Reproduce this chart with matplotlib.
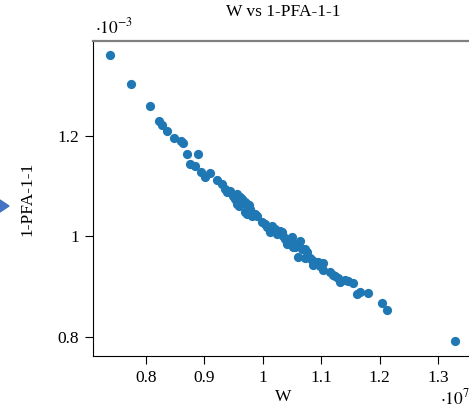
import matplotlib
matplotlib.use("Agg")
import matplotlib.pyplot as plt
from matplotlib.patches import Polygon
from matplotlib.ticker import FuncFormatter

plt.rcParams['font.family'] = ['Liberation Serif', 'DejaVu Serif']
plt.rcParams['mathtext.fontset'] = 'stix'

# W values (x 1e7) and 1-PFA-1-1 values (x 1e-3)
w = [0.738, 0.774, 0.807, 0.822, 0.827, 0.836, 0.848, 0.860, 0.863, 0.870,
     0.889, 0.875, 0.884, 0.894, 0.910, 0.901, 0.922, 0.930, 0.935, 0.939,
     0.944, 0.949, 0.956, 0.961, 0.952, 0.966, 0.970, 0.956, 0.973, 0.959,
     0.975, 0.978, 0.970, 0.973, 0.982, 0.987, 0.990, 0.999, 1.007, 1.016,
     1.021, 1.012, 1.029, 1.033, 1.035, 1.038, 1.041, 1.050, 1.041, 1.050,
     1.064, 1.055, 1.052, 1.067, 1.072, 1.076, 1.060, 1.072, 1.076, 1.081,
     1.084, 1.089, 1.086, 1.095, 1.103, 1.103, 1.115, 1.120, 1.129, 1.132,
     1.141, 1.146, 1.154, 1.161, 1.166, 1.180, 1.204, 1.213, 1.329,
     0.964, 0.976, 1.004, 1.024, 1.057, 1.098, 1.124]
pfa = [1.362, 1.304, 1.259, 1.229, 1.221, 1.209, 1.195, 1.189, 1.185, 1.165,
       1.165, 1.145, 1.141, 1.129, 1.127, 1.119, 1.113, 1.105, 1.094, 1.088,
       1.090, 1.080, 1.084, 1.078, 1.074, 1.070, 1.068, 1.064, 1.064, 1.060,
       1.058, 1.054, 1.048, 1.044, 1.040, 1.044, 1.040, 1.028, 1.018, 1.020,
       1.014, 1.008, 1.010, 1.008, 1.000, 0.994, 0.994, 0.998, 0.984, 0.988,
       0.990, 0.978, 0.978, 0.974, 0.974, 0.970, 0.960, 0.958, 0.960, 0.958,
       0.954, 0.950, 0.944, 0.950, 0.948, 0.934, 0.930, 0.924, 0.918, 0.910,
       0.914, 0.912, 0.908, 0.885, 0.889, 0.887, 0.867, 0.853, 0.791,
       1.074, 1.062, 1.024, 1.004, 0.982, 0.942, 0.922]

x_ticks = [0.8, 0.9, 1.0, 1.1, 1.2, 1.3]
y_ticks = [0.8, 1.0, 1.2]

fig = plt.figure(figsize=(4.69, 4.07), dpi=100)
ax = fig.add_axes([93 / 469, 51 / 407, 380 / 469, 315 / 407])

ax.scatter(w, pfa, s=44, color='#1f77b4', linewidths=0, zorder=3)

ax.set_xlim(0.709, 1.36)
ax.set_ylim(0.762, 1.389)
ax.set_xticks(x_ticks)
ax.set_yticks(y_ticks)
fmt = FuncFormatter(lambda v, p: '%g' % round(v, 2))
ax.xaxis.set_major_formatter(fmt)
ax.yaxis.set_major_formatter(fmt)
ax.tick_params(direction='out', length=6, width=0.8, labelsize=12.5, pad=4)

ax.spines['top'].set_color('#808080')
ax.spines['top'].set_linewidth(1.6)
ax.spines['right'].set_visible(False)

ax.set_title('W vs 1-PFA-1-1', fontsize=12.5, pad=18)
ax.set_xlabel('W', fontsize=12.5, labelpad=2)
ax.set_ylabel('1-PFA-1-1', fontsize=12.5, labelpad=16)

fig.text(95 / 469, 1 - 27 / 407, r'$\cdot 10^{-3}$', fontsize=12.5, va='center', ha='left')
fig.text(440 / 469, 1 - 398 / 407, r'$\cdot 10^{7}$', fontsize=12.5, va='center', ha='left')

# small arrow remnant at the left edge
fig.patches.append(Polygon([[0, 1 - 200 / 407], [0, 1 - 212 / 407], [9 / 469, 1 - 206 / 407]],
                           closed=True, transform=fig.transFigure, color='#4472c4'))

fig.savefig('out.png', dpi=100)
